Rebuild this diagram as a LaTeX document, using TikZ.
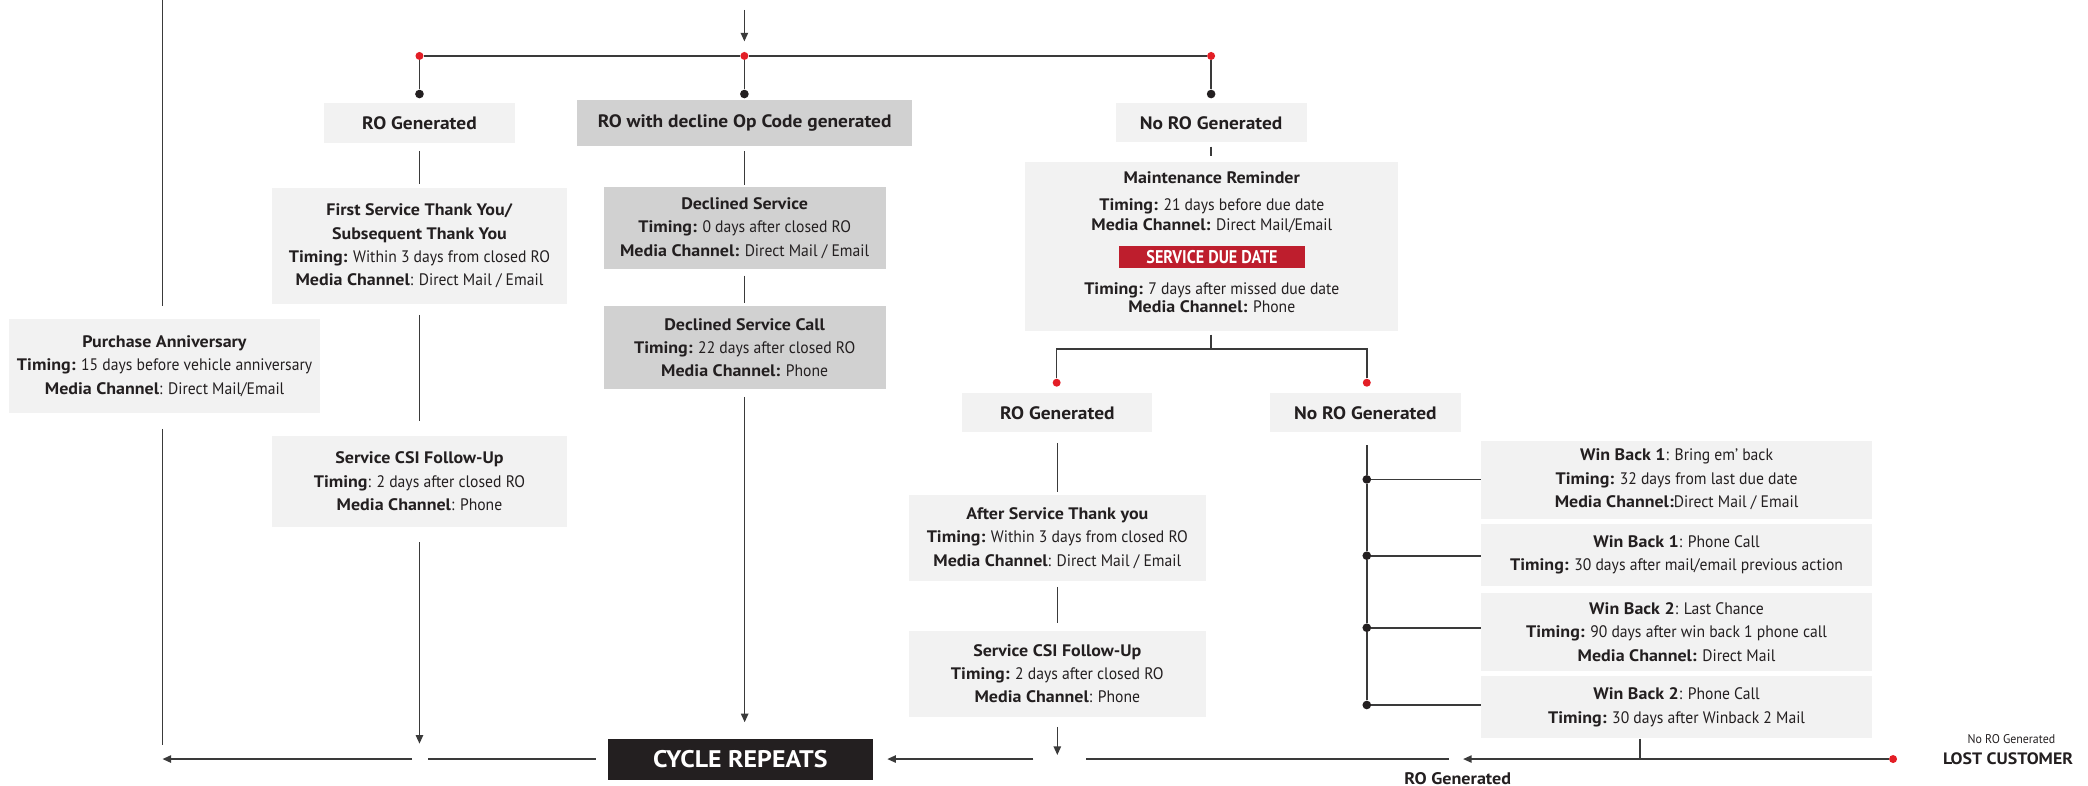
\documentclass[tikz,border=0pt]{standalone}
\usepackage{fontspec}
\setmainfont{PT Sans}[UprightFeatures={FakeStretch=0.94}, BoldFeatures={FakeStretch=1.08}]
\newfontfamily\condfont{PT Sans}[UprightFeatures={FakeStretch=0.85}, BoldFeatures={FakeStretch=0.88}]
\usetikzlibrary{arrows.meta,calc}
\definecolor{boxlight}{HTML}{F2F2F2}
\definecolor{boxdark}{HTML}{D1D1D1}
\definecolor{ink}{HTML}{231F20}
\definecolor{linec}{HTML}{3A3A3A}
\definecolor{dotred}{HTML}{E31E26}
\definecolor{duered}{HTML}{BE1E2D}
\begin{document}
\begin{tikzpicture}[x=1pt,y={(0pt,-1pt)},
  every node/.style={text=ink},
  conn/.style={draw=linec,line width=1.2pt},
  arr/.style={conn,-{Triangle[length=6.5pt,width=5.5pt]}},
  lbox/.style={fill=boxlight,inner sep=0pt,align=center,font=\fontsize{12.5}{17.6}\selectfont},
  dbox/.style={lbox,fill=boxdark},
  hbox/.style={fill=boxlight,inner sep=0pt,font=\bfseries\fontsize{13.5}{16}\selectfont},
  rdot/.style={circle,fill=dotred,inner sep=0pt,minimum size=6pt},
  bdot/.style={circle,fill=ink,inner sep=0pt,minimum size=6.5pt},
]
\useasboundingbox (0,0) rectangle (1568,590);

% ---------- top distribution ----------
\coordinate (top) at (559,7.5);
\node[rdot] (rdA) at (315,42) {};
\node[rdot] (rdB) at (559,42) {};
\node[rdot] (rdC) at (909.5,42) {};
\node[bdot] (bdA) at (315,70.6) {};
\node[bdot] (bdB) at (559,70.6) {};
\node[bdot] (bdC) at (909.5,70.6) {};
\draw[arr, shorten >=7.7pt] (top) -- (rdB);
\draw[conn] (rdA) -- (rdB);
\draw[conn] (rdB) -- (rdC);
\draw[conn] (rdA) -- (bdA);
\draw[conn] (rdB) -- (bdB);
\draw[conn] (rdC) -- (bdC);

% ---------- header boxes ----------
\node[hbox, minimum width=143pt, minimum height=29.5pt] (roA) at (315,92.3) {RO Generated};
\node[hbox, fill=boxdark, minimum width=252pt, minimum height=34.3pt] (roDecl) at (559.2,92.3) {RO with decline Op Code generated};
\node[hbox, minimum width=143.5pt, minimum height=29.3pt] (noRO) at (909.5,92.3) {No RO Generated};

% ---------- left column ----------
\node[lbox, minimum width=222pt, minimum height=87pt] (fst) at (315,184.7)
  {\textbf{First Service Thank You/}\\\textbf{Subsequent Thank You}\\\textbf{Timing:} Within 3 days from closed RO\\\textbf{Media Channel}: Direct Mail / Email};
\node[lbox, minimum width=222pt, minimum height=69pt] (csiA) at (315,361.6)
  {\textbf{Service CSI Follow-Up}\\\textbf{Timing}: 2 days after closed RO\\\textbf{Media Channel}: Phone};
\node[lbox, minimum width=234pt, minimum height=70pt] (pa) at (123.6,274.9)
  {\textbf{Purchase Anniversary}\\\textbf{Timing:} 15 days before vehicle anniversary\\\textbf{Media Channel}: Direct Mail/Email};

\draw[conn, shorten <=6pt, shorten >=2.5pt] (roA) -- (fst);
\draw[conn, shorten <=8pt, shorten >=11pt] (fst) -- (csiA);

% ---------- middle column ----------
\node[dbox, minimum width=212pt, minimum height=62pt] (decl) at (559.2,171.3)
  {\textbf{Declined Service}\\\textbf{Timing:} 0 days after closed RO\\\textbf{Media Channel:} Direct Mail / Email};
\node[dbox, minimum width=212pt, minimum height=62.6pt] (dcall) at (559.2,261.1)
  {\textbf{Declined Service Call}\\\textbf{Timing:} 22 days after closed RO\\\textbf{Media Channel:} Phone};
\node[fill=ink, text=white, inner sep=0pt, font=\bfseries\fontsize{18}{20}\selectfont, minimum width=198.6pt, minimum height=30.8pt] (cyc) at (556,570) {CYCLE REPEATS};

\draw[conn, shorten <=4pt, shorten >=1.2pt] (roDecl) -- (decl);
\draw[conn, shorten <=4.5pt, shorten >=2pt] (decl) -- (dcall);
\draw[arr, shorten <=5.5pt, shorten >=12pt] (dcall.south) -- (dcall.south |- cyc.north);

% ---------- maintenance reminder ----------
\node[fill=boxlight, inner sep=0pt, minimum width=280pt, minimum height=126.4pt] (maint) at (910,185.1) {};
\node[font=\bfseries\fontsize{12.5}{14}\selectfont] (mtitle) at (910,133.4) {Maintenance Reminder};
\node[font=\fontsize{12.5}{15}\selectfont, align=center] (mt1) at (910,162)
  {\textbf{Timing:} 21 days before due date\\\textbf{Media Channel:} Direct Mail/Email};
\node[fill=duered, text=white, inner sep=0pt, font=\condfont\bfseries\fontsize{13.8}{14}\selectfont, minimum width=140pt, minimum height=16.8pt] (due) at (910.2,193.1) {SERVICE DUE DATE};
\node[font=\fontsize{12.5}{13.5}\selectfont, align=center] (mt2) at (910,223.5)
  {\textbf{Timing:} 7 days after missed due date\\\textbf{Media Channel:} Phone};
\draw[conn, shorten <=3pt, shorten >=4.2pt] (noRO) -- (noRO.south |- maint.north);

% ---------- second split ----------
\coordinate (jM) at (909.5,262.3);
\coordinate (jML) at (793.5,262.3);
\coordinate (jMR) at (1026.4,262.3);
\node[rdot] (rdD) at (793.5,287.4) {};
\node[rdot] (rdE) at (1026.4,287.4) {};
\draw[conn, shorten <=2.7pt] (maint.south -| jM) -- (jM);
\draw[conn] (rdD) -- (jML) -- (jMR) -- (rdE);

\node[hbox, minimum width=142.6pt, minimum height=29.3pt] (roB) at (794,310) {RO Generated};
\node[hbox, minimum width=143.7pt, minimum height=29.3pt] (noRO2) at (1025.3,310) {No RO Generated};

\node[lbox, minimum width=223.4pt, minimum height=64.6pt] (asty) at (794,404)
  {\textbf{After Service Thank you}\\\textbf{Timing:} Within 3 days from closed RO\\\textbf{Media Channel}: Direct Mail / Email};
\node[lbox, minimum width=223.4pt, minimum height=64.6pt] (csiB) at (794,505.9)
  {\textbf{Service CSI Follow-Up}\\\textbf{Timing:} 2 days after closed RO\\\textbf{Media Channel}: Phone};
\draw[conn, shorten <=7.7pt, shorten >=1.7pt] (roB) -- (asty);
\draw[conn, shorten <=4.3pt, shorten >=5.5pt] (asty) -- (csiB);

% ---------- win back ----------
\node[lbox, minimum width=293pt, minimum height=58.6pt] (wb1) at (1259,360.2)
  {\textbf{Win Back 1}: Bring em' back\\\textbf{Timing:} 32 days from last due date\\\textbf{Media Channel:}Direct Mail / Email};
\node[lbox, minimum width=293pt, minimum height=46.3pt] (wb2) at (1259,416.65)
  {\textbf{Win Back 1}: Phone Call\\\textbf{Timing:} 30 days after mail/email previous action};
\node[lbox, minimum width=293pt, minimum height=58.6pt] (wb3) at (1259,474.4)
  {\textbf{Win Back 2}: Last Chance\\\textbf{Timing:} 90 days after win back 1 phone call\\\textbf{Media Channel:} Direct Mail};
\node[lbox, minimum width=293pt, minimum height=46.8pt] (wb4) at (1259,531.1)
  {\textbf{Win Back 2}: Phone Call\\\textbf{Timing:} 30 days after Winback 2 Mail};
\node[bdot] (wd1) at (1026.4,360) {};
\node[bdot] (wd2) at (1026.4,417.3) {};
\node[bdot] (wd3) at (1026.4,471.4) {};
\node[bdot] (wd4) at (1026.4,529.4) {};
\draw[conn, shorten <=9.5pt] (noRO2.south -| wd1) -- (wd1);
\draw[conn] (wd1) -- (wd2);
\draw[conn] (wd2) -- (wd3);
\draw[conn] (wd3) -- (wd4);
\draw[conn] (wd1) -- (wd1 -| wb1.west);
\draw[conn] (wd2) -- (wd2 -| wb2.west);
\draw[conn] (wd3) -- (wd3 -| wb3.west);
\draw[conn] (wd4) -- (wd4 -| wb4.west);

% ---------- bottom return line ----------
\coordinate (cL) at (122,570);
\coordinate (topL) at (122,0);
\coordinate (jA) at (315,570);
\coordinate (jB) at (794,570);
\coordinate (jBl) at (776,570);
\coordinate (jBr) at (815.6,570);
\coordinate (tailR) at (1088,570);
\coordinate (tipR) at (1098.7,570);
\coordinate (jW) at (1231.6,570);
\node[rdot] (rdF) at (1421.6,570) {};

\draw[conn, shorten >=10pt] (topL) -- (topL |- pa.north);
\draw[conn, shorten <=12pt, shorten >=10.5pt] (pa.south -| topL) -- (cL);
\draw[arr, shorten <=11pt, shorten >=11.5pt] (csiA) -- (jA);
\draw[conn, shorten <=9pt] (cyc.west) -- ($(jA)+(6.5,0)$);
\draw[arr] ($(jA)+(-5.6,0)$) -- (cL);

\draw[arr, shorten <=7.5pt, shorten >=3pt] (csiB) -- (jB);
\draw[arr, shorten >=10.8pt] (jBl) -- (cyc.east);
\draw[conn] (jBr) -- (tailR);
\draw[arr] (rdF) -- (tipR);
\draw[conn] (wb4.south -| jW) -- (jW);

\node[font=\bfseries\fontsize{12.6}{14}\selectfont] (roLbl) at (1094.7,584.5) {RO Generated};
\node[font=\fontsize{9.5}{11}\selectfont] (noLbl) at (1510.5,555) {No RO Generated};
\node[font=\bfseries\fontsize{12.4}{15}\selectfont] (lost) at (1508,569.5) {LOST CUSTOMER};
\end{tikzpicture}
\end{document}
